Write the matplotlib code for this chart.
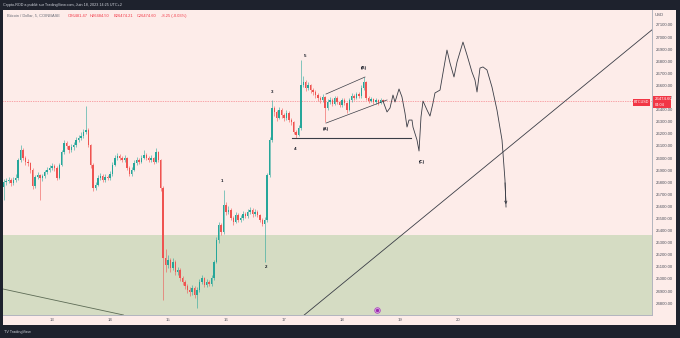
import numpy as np
import matplotlib
matplotlib.use("Agg")
import matplotlib.pyplot as plt
from matplotlib.patches import Rectangle

W, H = 680, 338
PINK = "#fdece9"
GREEN = "#d5dcc3"
DARK = "#1e222d"
UP = "#26a69a"
DOWN = "#ef5350"
LINE = "#3a3d46"

plt.rcParams['font.family'] = ['Liberation Sans', 'DejaVu Sans']

# BTCUSD, hourly candles, June 12 04:00 -> June 18 17:00
start_hour = 4
first_open = 25760
closes = [25802, 25810, 25818, 25793, 25818, 25835, 25984, 26066, 26000, 25967,
          25959, 25901, 25769, 25843, 25860, 25835, 25851, 25884, 25901, 25917,
          25934, 25917, 25835, 25942, 26050, 26124, 26099, 26066, 26091, 26108,
          26149, 26166, 26182, 26215, 26232, 26108, 25942, 25752, 25777, 25835,
          25851, 25818, 25843, 25835, 25868, 25942, 26000, 26017, 26000, 25984,
          26000, 25917, 25868, 25901, 25959, 25984, 25967, 26000, 26025, 26000,
          25984, 26000, 25967, 26050, 25984, 25752, 25173, 25115, 25157, 25090,
          25140, 25057, 25074, 25008, 24975, 24942, 24909, 24892, 24925, 24867,
          24909, 24975, 25008, 24950, 24975, 24958, 25008, 25140, 25322, 25446,
          25388, 25611, 25554, 25570, 25504, 25471, 25529, 25487, 25504, 25537,
          25520, 25554, 25570, 25537, 25554, 25529, 25487, 25454, 25487, 25860,
          26149, 26414, 26381, 26331, 26397, 26356, 26331, 26372, 26314, 26298,
          26215, 26190, 26248, 26604, 26629, 26579, 26604, 26562, 26546, 26521,
          26496, 26480, 26505, 26414, 26463, 26480, 26447, 26496, 26463, 26438,
          26480, 26455, 26397, 26480, 26513, 26496, 26529, 26513, 26579, 26629,
          26496, 26472, 26488, 26463, 26480, 26455, 26480, 26475]
highs = [25830, 25835, 25845, 25835, 25840, 25870, 26000, 26108, 26080, 26020,
         25990, 25970, 25915, 25860, 25885, 25870, 25870, 25905, 25925, 25940,
         25955, 25950, 25930, 25960, 26070, 26150, 26140, 26110, 26115, 26130,
         26175, 26190, 26215, 26240, 26430, 26250, 26120, 25955, 25800, 25860,
         25875, 25865, 25865, 25860, 25890, 25965, 26025, 26045, 26035, 26020,
         26025, 26010, 25930, 25925, 25980, 26005, 26000, 26025, 26066, 26040,
         26015, 26025, 26010, 26080, 26060, 25995, 25770, 25250, 25200, 25175,
         25170, 25155, 25100, 25090, 25025, 24990, 24960, 24930, 24950, 24940,
         24930, 25000, 25035, 25020, 25000, 24995, 25030, 25160, 25345, 25475,
         25460, 25736, 25640, 25600, 25585, 25520, 25550, 25545, 25525, 25560,
         25555, 25575, 25595, 25585, 25575, 25570, 25540, 25500, 25510, 25880,
         26170, 26480, 26430, 26395, 26420, 26410, 26370, 26395, 26385, 26330,
         26310, 26230, 26270, 26811, 26680, 26645, 26630, 26615, 26580, 26560,
         26535, 26510, 26530, 26515, 26485, 26505, 26495, 26515, 26510, 26475,
         26500, 26495, 26465, 26500, 26535, 26530, 26550, 26545, 26600, 26669,
         26640, 26510, 26505, 26500, 26495, 26490, 26495, 26485]
lows = [25650, 25780, 25790, 25770, 25780, 25805, 25820, 25970, 25980, 25945,
        25930, 25880, 25740, 25755, 25825, 25653, 25810, 25835, 25870, 25885,
        25900, 25895, 25815, 25825, 25930, 26035, 26075, 26040, 26050, 26070,
        26095, 26130, 26150, 26165, 26200, 26090, 25920, 25730, 25735, 25765,
        25815, 25800, 25800, 25815, 25820, 25855, 25930, 25985, 25980, 25965,
        25970, 25900, 25850, 25855, 25890, 25945, 25950, 25955, 25990, 25980,
        25965, 25970, 25950, 25955, 25965, 25730, 24826, 25060, 25090, 25060,
        25070, 25030, 25035, 24985, 24950, 24915, 24880, 24860, 24870, 24840,
        24760, 24895, 24960, 24930, 24935, 24940, 24945, 24995, 25130, 25300,
        25360, 25375, 25530, 25535, 25485, 25450, 25460, 25470, 25470, 25490,
        25500, 25505, 25540, 25515, 25520, 25510, 25470, 25435, 25140, 25475,
        25845, 26135, 26350, 26310, 26320, 26335, 26310, 26315, 26295, 26275,
        26195, 26166, 26180, 26235, 26590, 26555, 26565, 26540, 26525, 26500,
        26475, 26455, 26465, 26298, 26400, 26450, 26430, 26435, 26445, 26420,
        26425, 26440, 26372, 26385, 26465, 26480, 26485, 26495, 26500, 26565,
        26480, 26455, 26460, 26445, 26450, 26440, 26445, 26470]
last_price = 26474.60

# projected path (hand drawn on the chart), x in days of June
path_days = [18.707, 18.776, 18.828, 18.879, 18.914, 18.983, 19.034, 19.086, 19.121,
             19.155, 19.207, 19.224, 19.293, 19.328, 19.362, 19.397, 19.466, 19.517,
             19.569, 19.603, 19.690, 19.741, 19.810, 19.862, 19.931, 19.983, 20.086,
             20.155, 20.241, 20.293, 20.328, 20.379, 20.431, 20.500, 20.586, 20.672,
             20.759, 20.810, 20.828]
path_prices = [26471, 26381, 26414, 26521, 26463, 26571, 26505, 26372, 26256,
               26314, 26314, 26256, 26149, 26058, 26339, 26471, 26397, 26347,
               26455, 26538, 26562, 26703, 26893, 26786, 26670, 26794, 26959,
               26852, 26711, 26645, 26546, 26744, 26753, 26728, 26587, 26397,
               26149, 25818, 25595]

support_zone_top = 25363
wave4_line = (17.138, 19.190, 26165)
channel_top = [(17.724, 26529), (18.397, 26670)]
channel_bottom = [(17.724, 26289), (18.776, 26480)]
trend_up = [(19.345, 25487), (21.069, 26165)]
trend_down = [(12.155, 24917), (14.155, 24710)]

wave_labels = [("1", 15.931, 25810), ("2", 16.690, 25099), ("3", 16.793, 26546),
               ("4", 17.190, 26075), ("5", 17.362, 26844), ("(A)", 17.724, 26240),
               ("(B)", 18.379, 26744), ("(C)", 19.379, 25967)]

day_ticks = [13, 14, 15, 16, 17, 18, 19, 20]
price_ticks = list(range(24800, 27101, 100))


def fx(x):
    return x / W


def fy(y):
    return 1 - y / H


fig = plt.figure(figsize=(W / 100, H / 100), dpi=100, facecolor=DARK)
fig.patches.append(Rectangle((fx(3), fy(325)), fx(676) - fx(3), fy(10) - fy(325),
                             transform=fig.transFigure, facecolor=PINK,
                             edgecolor="none", zorder=-5))

ax = fig.add_axes([fx(3), fy(315), fx(652) - fx(3), fy(10) - fy(315)])
ax.set_zorder(1)
ax.set_facecolor(PINK)
ax.set_xlim(12.155, 23.345)
ax.set_ylim(24702, 27224)

ax.axhspan(24000, support_zone_top, color=GREEN, lw=0, zorder=0)

# candles
c = np.array(closes, dtype=float)
o = np.array([first_open] + closes[:-1], dtype=float)
hi = np.array(highs, dtype=float)
lo = np.array(lows, dtype=float)
days = 12 + (start_hour + np.arange(len(c))) / 24
cols = np.where(c >= o, UP, DOWN)
ax.vlines(days, lo, hi, colors=cols, lw=0.4, zorder=3)
body = np.maximum(np.abs(c - o), 4)
ax.bar(days, body, bottom=np.minimum(o, c), width=0.6 / 24, color=cols, lw=0, zorder=4)

# drawings
ax.plot(path_days, path_prices, color=LINE, lw=0.6, zorder=5)
ax.annotate("", xy=(path_days[-1], path_prices[-1]),
            xytext=(path_days[-2], path_prices[-2]),
            arrowprops=dict(arrowstyle="->", color=LINE, lw=0.6, mutation_scale=4))
ax.plot(wave4_line[:2], [wave4_line[2]] * 2, color=LINE, lw=0.8, zorder=5)
ax.plot(*zip(*channel_top), color=LINE, lw=0.5, zorder=5)
ax.plot(*zip(*channel_bottom), color=LINE, lw=0.5, zorder=5)
ax.axline(*trend_up, color=LINE, lw=0.6, zorder=5)
ax.axline(*trend_down, color="#5d6b55", lw=0.6, zorder=5)

for txt, d, p in wave_labels:
    ax.text(d, p, txt, fontsize=3.2, color="#131722", ha="center", va="center",
            fontweight="bold", zorder=6)

ax.axhline(last_price, color="#f23645", lw=0.5, ls=(0, (1, 1.5)), alpha=0.8, zorder=2)

# event marker on the time axis
ax.scatter([18.609], [24743], s=16, facecolor="#e1bee7", edgecolor="#ab47bc", lw=0.6, zorder=7)
ax.scatter([18.609], [24743], s=2, color="#9c27b0", zorder=8)

# axes
for s in ["top", "left"]:
    ax.spines[s].set_visible(False)
for s in ["right", "bottom"]:
    ax.spines[s].set_color("#b2b5be")
    ax.spines[s].set_linewidth(0.7)
ax.yaxis.tick_right()
ax.set_yticks(price_ticks)
ax.set_yticklabels([f"{t:.2f}" for t in price_ticks])
ax.set_xticks(day_ticks)
ax.set_xticklabels([str(d) for d in day_ticks])
ax.tick_params(axis="y", length=0, pad=2.5, labelsize=3.1, labelcolor="#50535e")
ax.tick_params(axis="x", length=0, pad=2.5, labelsize=3.1, labelcolor="#50535e")

# texts around the chart
fig.text(fx(3), fy(5), "Crypto-ROD a publié sur TradingView.com, Juin 18, 2023 14:25 UTC+2",
         fontsize=2.7, color="#d1d4dc", va="center")
fig.text(fx(7), fy(16), "Bitcoin / Dollar, 5, COINBASE", fontsize=2.9, color="#6a6d78",
         va="center", zorder=10)
for x, t in [(68, "O26481.47"), (90, "H26484.50"), (114, "B26474.21"),
             (137, "C26474.60"), (161, "-8.25 (-0.03%)")]:
    fig.text(fx(x), fy(16), t, fontsize=2.9, color="#f23645", va="center", zorder=10)
fig.text(fx(655), fy(15), "USD", fontsize=3.1, color="#50535e", va="center", zorder=10)
fig.text(fx(4), fy(331.5), "TV TradingView", fontsize=2.7, color="#d1d4dc", va="center")

# price labels on the right
fig.patches.append(Rectangle((fx(633), fy(105.5)), fx(650) - fx(633), fy(98.5) - fy(105.5),
                             transform=fig.transFigure, facecolor="#f23645", edgecolor="none", zorder=9))
fig.text(fx(641.5), fy(102), "BTCUSD", fontsize=2.7, color="white", ha="center", va="center", zorder=10)
fig.patches.append(Rectangle((fx(653), fy(108.5)), fx(671) - fx(653), fy(96.5) - fy(108.5),
                             transform=fig.transFigure, facecolor="#f23645", edgecolor="none", zorder=9))
fig.text(fx(655), fy(99.5), f"{last_price:.2f}", fontsize=3.1, color="white", va="center", zorder=10)
fig.text(fx(655), fy(105.3), "04:04", fontsize=2.8, color="white", va="center", zorder=10)

plt.savefig("out.png", dpi=100, facecolor=DARK)
